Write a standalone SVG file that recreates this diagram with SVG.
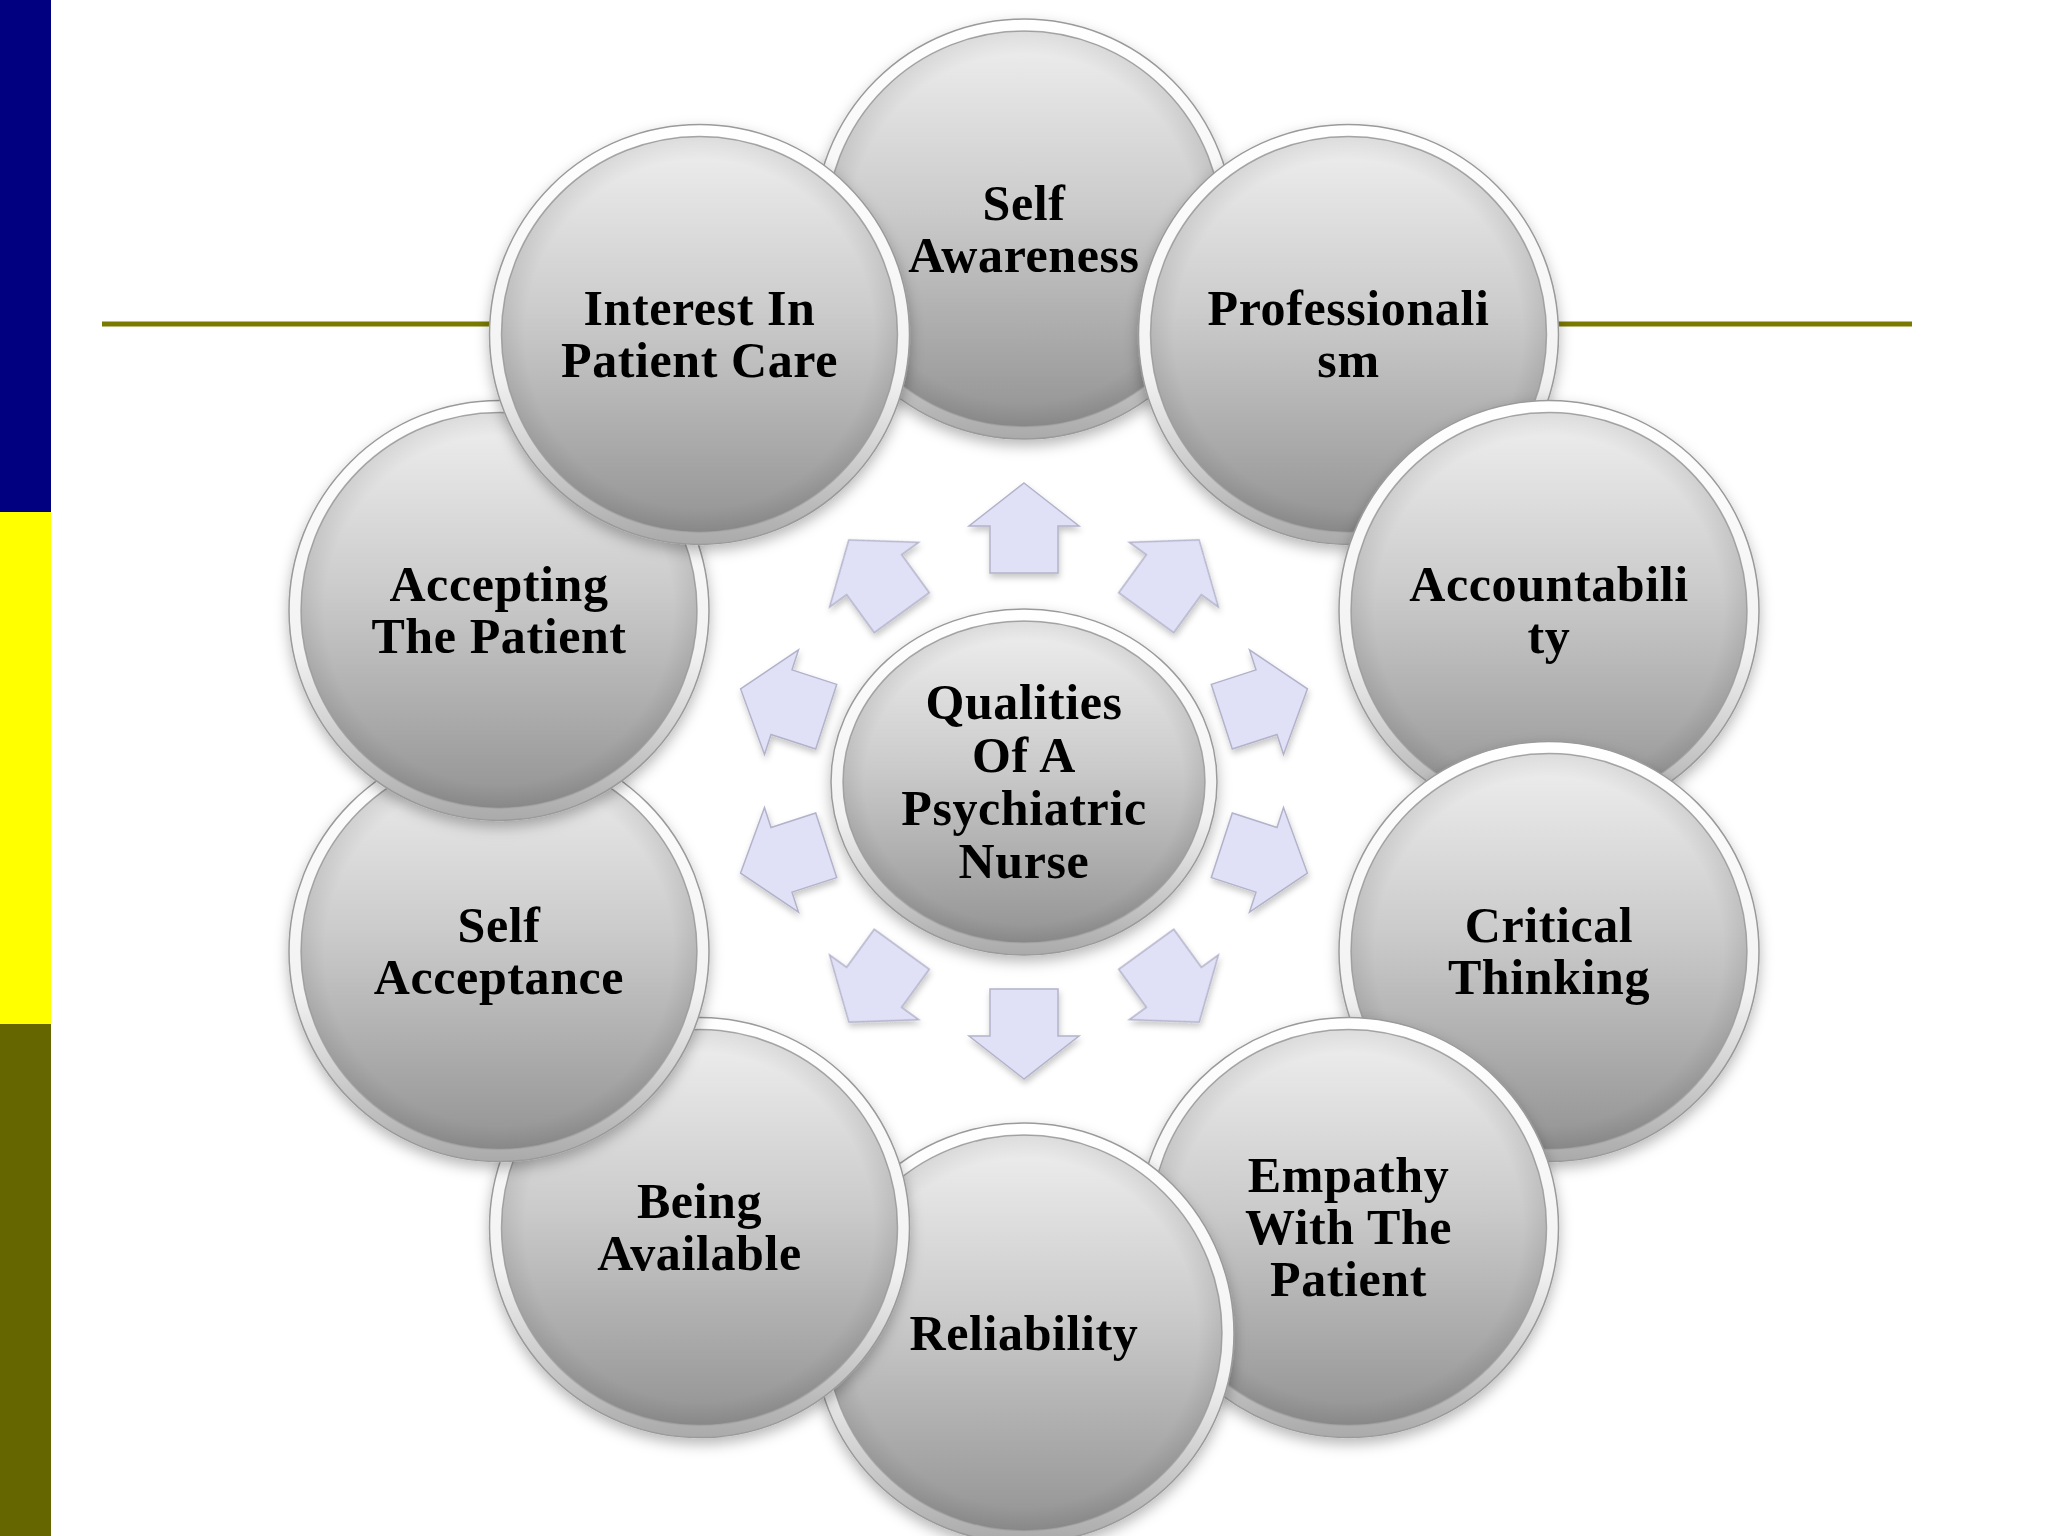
<svg xmlns="http://www.w3.org/2000/svg" xmlns:xlink="http://www.w3.org/1999/xlink" width="2048" height="1536" viewBox="0 0 2048 1536">
  <defs>
    <linearGradient id="rim" x1="0" y1="0" x2="0" y2="1">
      <stop offset="0" stop-color="#ffffff"/>
      <stop offset="0.6" stop-color="#f2f2f2"/>
      <stop offset="1" stop-color="#aaaaaa"/>
    </linearGradient>
    <linearGradient id="face" x1="0" y1="0" x2="0" y2="1">
      <stop offset="0" stop-color="#efefef"/>
      <stop offset="0.45" stop-color="#cbcbcb"/>
      <stop offset="1" stop-color="#939393"/>
    </linearGradient>
    <radialGradient id="bevel" cx="0.5" cy="0.5" r="0.5">
      <stop offset="0.88" stop-color="#000" stop-opacity="0"/>
      <stop offset="1" stop-color="#000" stop-opacity="0.08"/>
    </radialGradient>
    <filter id="shadow" x="-20%" y="-20%" width="140%" height="140%">
      <feDropShadow dx="0" dy="6" stdDeviation="7" flood-color="#000" flood-opacity="0.28"/>
    </filter>
    <filter id="ashadow" x="-30%" y="-30%" width="160%" height="160%">
      <feDropShadow dx="1" dy="4" stdDeviation="3" flood-color="#000" flood-opacity="0.22"/>
    </filter>
    <g id="ball">
      <circle r="210" fill="url(#rim)" stroke="#9a9a9a" stroke-width="1.5"/>
      <circle r="198" fill="url(#face)" stroke="#aaaaaa" stroke-width="1.5"/>
      <circle r="198" fill="url(#bevel)"/>
    </g>
    <path id="arrow" d="M0,-45 L55,-2 L34,-2 L34,45 L-34,45 L-34,-2 L-55,-2 Z"/>
    <style>
      .lbl { font-family: "Liberation Serif", "Times New Roman", serif; font-weight: bold; font-size: 50px; letter-spacing: 0.6px; fill: #000; text-anchor: middle; }
      .arr { fill: #e0e0f7; stroke: #b2b2ca; stroke-width: 1.5; stroke-linejoin: miter; }
    </style>
  </defs>

  <rect x="0" y="0" width="2048" height="1536" fill="#ffffff"/>

  <g id="sidebar">
    <rect x="0" y="0" width="51" height="512" fill="#000080"/>
    <rect x="0" y="512" width="51" height="512" fill="#ffff00"/>
    <rect x="0" y="1024" width="51" height="512" fill="#666600"/>
  </g>

  <line id="rule" x1="102" y1="324" x2="1912" y2="324" stroke="#7a7a00" stroke-width="5"/>

  <g id="connectors" filter="url(#ashadow)">
    <use href="#arrow" class="arr" transform="translate(1024,528) rotate(0)"/>
    <use href="#arrow" class="arr" transform="translate(1172.7,576.3) rotate(36)"/>
    <use href="#arrow" class="arr" transform="translate(1264.6,702.8) rotate(72)"/>
    <use href="#arrow" class="arr" transform="translate(1264.6,859.2) rotate(108)"/>
    <use href="#arrow" class="arr" transform="translate(1172.7,985.7) rotate(144)"/>
    <use href="#arrow" class="arr" transform="translate(1024,1034) rotate(180)"/>
    <use href="#arrow" class="arr" transform="translate(875.3,985.7) rotate(216)"/>
    <use href="#arrow" class="arr" transform="translate(783.4,859.2) rotate(252)"/>
    <use href="#arrow" class="arr" transform="translate(783.4,702.8) rotate(288)"/>
    <use href="#arrow" class="arr" transform="translate(875.3,576.3) rotate(324)"/>
  </g>

  <g id="center">
    <g filter="url(#shadow)">
      <ellipse cx="1024" cy="782" rx="193" ry="173" fill="url(#rim)" stroke="#9a9a9a" stroke-width="1.5"/>
      <ellipse cx="1024" cy="782" rx="181" ry="161" fill="url(#face)" stroke="#aaaaaa" stroke-width="1.5"/>
      <ellipse cx="1024" cy="782" rx="181" ry="161" fill="url(#bevel)"/>
    </g>
    <text class="lbl" x="1024" y="719">Qualities</text>
    <text class="lbl" x="1024" y="772">Of A</text>
    <text class="lbl" x="1024" y="825">Psychiatric</text>
    <text class="lbl" x="1024" y="878">Nurse</text>
  </g>

  <g id="n1">
    <use href="#ball" x="1024" y="229" filter="url(#shadow)"/>
    <text class="lbl" x="1024" y="220">Self</text>
    <text class="lbl" x="1024" y="272">Awareness</text>
  </g>
  <g id="n2">
    <use href="#ball" x="1348.5" y="334.4" filter="url(#shadow)"/>
    <text class="lbl" x="1348.5" y="325">Professionali</text>
    <text class="lbl" x="1348.5" y="377">sm</text>
  </g>
  <g id="n3">
    <use href="#ball" x="1549" y="610.4" filter="url(#shadow)"/>
    <text class="lbl" x="1549" y="601">Accountabili</text>
    <text class="lbl" x="1549" y="653">ty</text>
  </g>
  <g id="n4">
    <use href="#ball" x="1549" y="951.6" filter="url(#shadow)"/>
    <text class="lbl" x="1549" y="942">Critical</text>
    <text class="lbl" x="1549" y="994">Thinking</text>
  </g>
  <g id="n5">
    <use href="#ball" x="1348.5" y="1227.6" filter="url(#shadow)"/>
    <text class="lbl" x="1348.5" y="1192">Empathy</text>
    <text class="lbl" x="1348.5" y="1244">With The</text>
    <text class="lbl" x="1348.5" y="1296">Patient</text>
  </g>
  <g id="n6">
    <use href="#ball" x="1024" y="1333" filter="url(#shadow)"/>
    <text class="lbl" x="1024" y="1349.5">Reliability</text>
  </g>
  <g id="n7">
    <use href="#ball" x="699.5" y="1227.6" filter="url(#shadow)"/>
    <text class="lbl" x="699.5" y="1218">Being</text>
    <text class="lbl" x="699.5" y="1270">Available</text>
  </g>
  <g id="n8">
    <use href="#ball" x="499" y="951.6" filter="url(#shadow)"/>
    <text class="lbl" x="499" y="942">Self</text>
    <text class="lbl" x="499" y="994">Acceptance</text>
  </g>
  <g id="n9">
    <use href="#ball" x="499" y="610.4" filter="url(#shadow)"/>
    <text class="lbl" x="499" y="601">Accepting</text>
    <text class="lbl" x="499" y="653">The Patient</text>
  </g>
  <g id="n10">
    <use href="#ball" x="699.5" y="334.4" filter="url(#shadow)"/>
    <text class="lbl" x="699.5" y="325">Interest In</text>
    <text class="lbl" x="699.5" y="377">Patient Care</text>
  </g>
</svg>
